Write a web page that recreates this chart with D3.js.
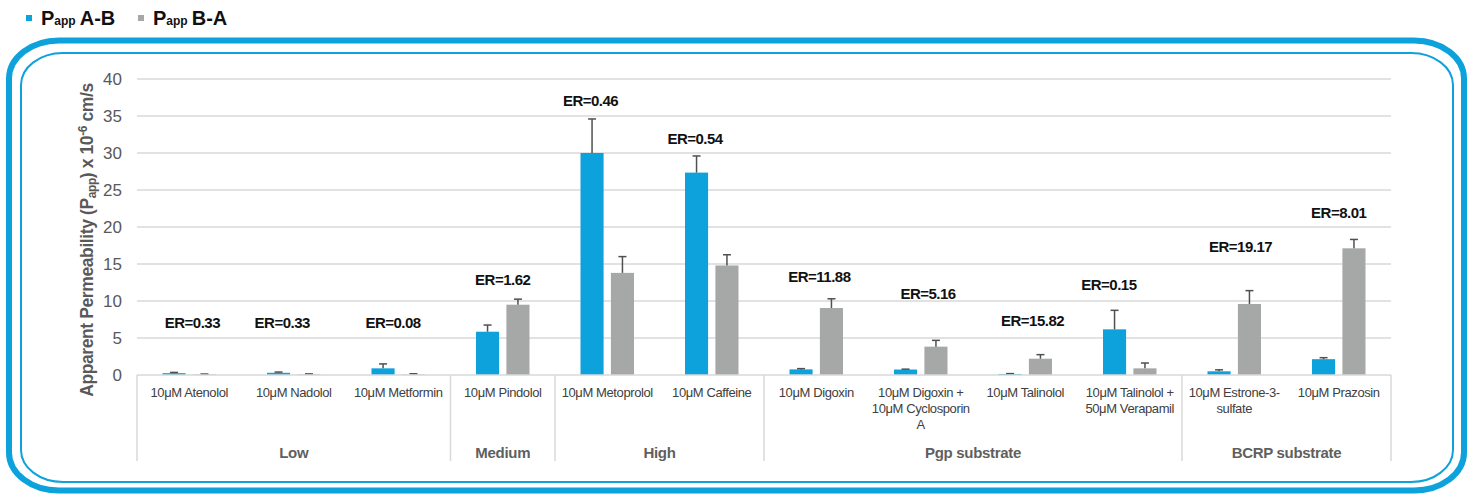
<!DOCTYPE html>
<html>
<head>
<meta charset="utf-8">
<script src="https://cdn.jsdelivr.net/npm/d3@7/dist/d3.min.js"></script>
<style>
  html, body { margin: 0; padding: 0; background: #fff; }
  svg { display: block; font-family: "Liberation Sans", Arial, sans-serif; }
</style>
</head>
<body>
<svg id="chart" width="1474" height="494"></svg>
<script>
// Compound permeability (Papp, x10^-6 cm/s) in both directions, grouped by class
const categories = [
  "10μM Atenolol", "10μM Nadolol", "10μM Metformin", "10μM Pindolol",
  "10μM Metoprolol", "10μM Caffeine", "10μM Digoxin",
  "10μM Digoxin + 10μM Cyclosporin A", "10μM Talinolol",
  "10μM Talinolol + 50μM Verapamil", "10μM Estrone-3-sulfate", "10μM Prazosin"
];
const categoryLines = [
  ["10μM Atenolol"], ["10μM Nadolol"], ["10μM Metformin"], ["10μM Pindolol"],
  ["10μM Metoprolol"], ["10μM Caffeine"], ["10μM Digoxin"],
  ["10μM Digoxin +", "10μM Cyclosporin", "A"], ["10μM Talinolol"],
  ["10μM Talinolol +", "50μM Verapamil"], ["10μM Estrone-3-", "sulfate"], ["10μM Prazosin"]
];
const categoryGroup = ["Low", "Low", "Low", "Medium", "High", "High",
  "Pgp substrate", "Pgp substrate", "Pgp substrate", "Pgp substrate",
  "BCRP substrate", "BCRP substrate"];
const groups = ["Low", "Medium", "High", "Pgp substrate", "BCRP substrate"];

const seriesNames = ["A-B", "B-A"];
const pappAB = [0.25, 0.3, 0.9, 5.85, 30.0, 27.35, 0.76, 0.74, 0.14, 6.17, 0.5, 2.14];
const pappBA = [0.08, 0.1, 0.07, 9.5, 13.8, 14.8, 9.05, 3.83, 2.2, 0.9, 9.6, 17.12];
const errAB  = [0.1, 0.1, 0.6, 0.9, 4.6, 2.25, 0.1, 0.05, 0.05, 2.57, 0.2, 0.2];
const errBA  = [0.05, 0.05, 0.1, 0.75, 2.2, 1.45, 1.25, 0.85, 0.55, 0.72, 1.8, 1.2];
const effluxRatio = ["0.33", "0.33", "0.08", "1.62", "0.46", "0.54",
  "11.88", "5.16", "15.82", "0.15", "19.17", "8.01"];
// Annotation anchors: level on the value axis, horizontal nudge as a fraction of the band
const erLevel = [6.3, 6.3, 6.3, 12.2, 36.4, 31.2, 12.6, 10.3, 6.6, 11.5, 16.6, 21.2];
const erNudge = [0.03, -0.11, -0.05, 0, -0.16, -0.16, 0.03, 0.07, 0.07, -0.2, 0.06, 0];

const yTicks = [0, 5, 10, 15, 20, 25, 30, 35, 40];

const colors = { "A-B": "#0ea2dc", "B-A": "#a6a8a7" };

const svg = d3.select("#chart");

// Decorative double frame
svg.append("rect")
  .attr("x", 9).attr("y", 40.5).attr("width", 1455).attr("height", 450)
  .attr("rx", 50).attr("ry", 38)
  .attr("fill", "none").attr("stroke", "#0ea2dc").attr("stroke-width", 6);
svg.append("rect")
  .attr("x", 21).attr("y", 53).attr("width", 1432).attr("height", 429)
  .attr("rx", 42).attr("ry", 32)
  .attr("fill", "none").attr("stroke", "#0ea2dc").attr("stroke-width", 2);

const plotLeft = 137, plotRight = 1391, plotBottom = 375, plotTop = 79;

const x0 = d3.scaleBand().domain(categories).range([plotLeft, plotRight]).padding(0);
const x1 = d3.scaleBand().domain(seriesNames)
  .range([x0.bandwidth() * 0.244, x0.bandwidth() * 0.756]).paddingInner(0.24);
const y = d3.scaleLinear().domain([0, 40]).range([plotBottom, plotTop]);

// Gridlines
svg.append("g").selectAll("line").data(yTicks.filter(t => t > 0)).join("line")
  .attr("x1", plotLeft).attr("x2", plotRight)
  .attr("y1", d => y(d)).attr("y2", d => y(d))
  .attr("stroke", "#d9d9d9").attr("stroke-width", 1.5);

// Y axis tick labels
const yAxis = d3.axisLeft(y).tickValues(yTicks).tickSize(0).tickPadding(15);
const yg = svg.append("g").attr("transform", `translate(${plotLeft},0)`).call(yAxis);
yg.select(".domain").remove();
yg.selectAll("text")
  .attr("font-size", 17).attr("fill", "#595959")
  .attr("font-family", "'Liberation Sans', Arial, sans-serif");

// Y axis title
const yt = svg.append("text")
  .attr("transform", "translate(93,240) rotate(-90)")
  .attr("text-anchor", "middle")
  .attr("font-size", 17.5).attr("font-weight", "bold").attr("fill", "#595959")
  .attr("letter-spacing", "-0.4");
yt.append("tspan").text("Apparent Permeability (P");
yt.append("tspan").attr("font-size", 12).attr("baseline-shift", "-3").text("app");
yt.append("tspan").text(") x 10");
yt.append("tspan").attr("font-size", 12).attr("baseline-shift", "6").text("-6");
yt.append("tspan").text(" cm/s");

// Bars
const rows = categories.map((c, i) => ({
  cat: c,
  vals: [
    { s: "A-B", v: pappAB[i], e: errAB[i] },
    { s: "B-A", v: pappBA[i], e: errBA[i] }
  ]
}));

const catG = svg.append("g").selectAll("g").data(rows).join("g")
  .attr("transform", d => `translate(${x0(d.cat)},0)`);

catG.selectAll("rect").data(d => d.vals).join("rect")
  .attr("x", d => x1(d.s)).attr("width", x1.bandwidth())
  .attr("y", d => y(d.v)).attr("height", d => y(0) - y(d.v))
  .attr("fill", d => colors[d.s]);

// Upper error bars
const cap = 4;
catG.selectAll("g.err").data(d => d.vals).join("g").attr("class", "err")
  .each(function(d) {
    const g = d3.select(this);
    const cx = x1(d.s) + x1.bandwidth() / 2;
    g.append("line").attr("x1", cx).attr("x2", cx)
      .attr("y1", y(d.v)).attr("y2", y(d.v + d.e))
      .attr("stroke", "#505050").attr("stroke-width", 1.5);
    g.append("line").attr("x1", cx - cap).attr("x2", cx + cap)
      .attr("y1", y(d.v + d.e)).attr("y2", y(d.v + d.e))
      .attr("stroke", "#505050").attr("stroke-width", 1.5);
  });

// Efflux ratio annotations
svg.append("g").selectAll("text").data(categories).join("text")
  .attr("x", (c, i) => x0(c) + x0.bandwidth() * (0.5 + erNudge[i]))
  .attr("y", (c, i) => y(erLevel[i]))
  .attr("text-anchor", "middle")
  .attr("font-size", 15).attr("font-weight", "bold").attr("fill", "#111")
  .attr("letter-spacing", "-0.5")
  .text((c, i) => "ER=" + effluxRatio[i]);

// Category axis: baseline, group separators, labels
svg.append("line").attr("x1", plotLeft).attr("x2", plotRight)
  .attr("y1", plotBottom).attr("y2", plotBottom)
  .attr("stroke", "#d9d9d9").attr("stroke-width", 1.5);

const groupSpans = groups.map(g => {
  const members = categories.filter((c, i) => categoryGroup[i] === g);
  const s0 = x0(members[0]);
  const s1 = x0(members[members.length - 1]) + x0.bandwidth();
  return { g, start: s0, end: s1 };
});

const sepX = [plotLeft].concat(groupSpans.map(s => s.end));
svg.append("g").selectAll("line").data(sepX).join("line")
  .attr("x1", d => d).attr("x2", d => d)
  .attr("y1", plotBottom).attr("y2", 461)
  .attr("stroke", "#d9d9d9").attr("stroke-width", 1.5);

const catLabels = svg.append("g").selectAll("text").data(categories).join("text")
  .attr("text-anchor", "middle")
  .attr("font-size", 13).attr("fill", "#404040")
  .attr("letter-spacing", "-0.4");
catLabels.each(function(c, i) {
  const t = d3.select(this);
  categoryLines[i].forEach((line, k) => {
    t.append("tspan")
      .attr("x", x0(c) + x0.bandwidth() / 2)
      .attr("y", 397 + k * 16)
      .text(line);
  });
});

svg.append("g").selectAll("text").data(groupSpans).join("text")
  .attr("x", d => (d.start + d.end) / 2)
  .attr("y", 458)
  .attr("text-anchor", "middle")
  .attr("font-size", 15).attr("font-weight", "bold").attr("fill", "#5f5f5f")
  .attr("letter-spacing", "-0.3")
  .text(d => d.g);

// Legend
const legend = svg.append("g");
const legendItems = [
  { s: "A-B", x: 26 },
  { s: "B-A", x: 138 }
];
legendItems.forEach(item => {
  legend.append("rect").attr("x", item.x).attr("y", 15).attr("width", 6).attr("height", 6)
    .attr("fill", colors[item.s]);
  const t = legend.append("text").attr("x", item.x + 15).attr("y", 25)
    .attr("font-weight", "bold").attr("fill", "#111").attr("font-size", 20);
  t.append("tspan").text("P");
  t.append("tspan").attr("font-size", 12).text("app");
  t.append("tspan").attr("dx", 4).text(item.s);
});
</script>
</body>
</html>
